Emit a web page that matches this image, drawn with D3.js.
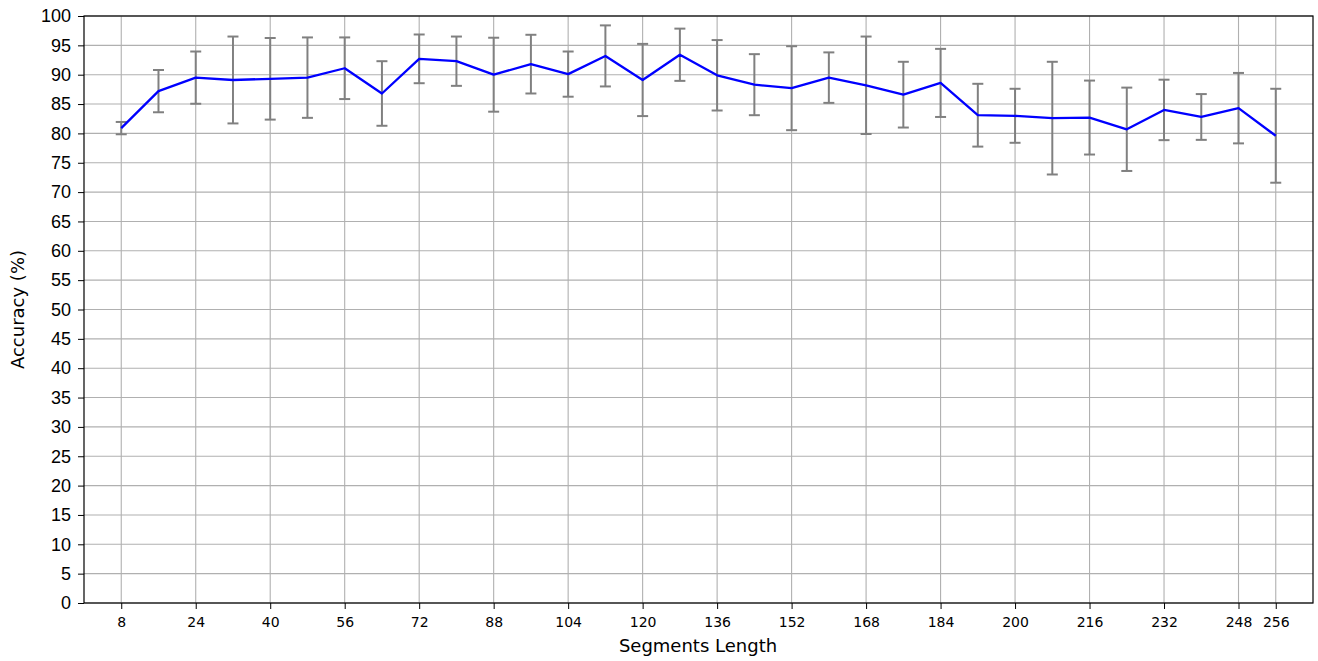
<!DOCTYPE html>
<html>
<head>
<meta charset="utf-8">
<script src="https://cdn.jsdelivr.net/npm/d3@7"></script>
<style>
  html, body { margin: 0; padding: 0; background: #fff; }
  svg { display: block; font-family: "DejaVu Sans", sans-serif; }
</style>
</head>
<body>
<svg id="chart" width="1318" height="661"></svg>
<script>
// Segment lengths evaluated
const segmentLengths = [8, 16, 24, 32, 40, 48, 56, 64, 72, 80, 88, 96, 104, 112, 120, 128,
  136, 144, 152, 160, 168, 176, 184, 192, 200, 208, 216, 224, 232, 240, 248, 256];
// Mean accuracy (%) per segment length
const meanAccuracy = [80.9, 87.2, 89.5, 89.1, 89.3, 89.5, 91.1, 86.8, 92.7, 92.3, 90.0, 91.8, 90.1, 93.2, 89.1, 93.4,
  89.9, 88.3, 87.7, 89.5, 88.2, 86.6, 88.6, 83.1, 83.0, 82.6, 82.7, 80.7, 84.0, 82.8, 84.3, 79.6];
// Standard deviation (%) per segment length
const stdAccuracy = [1.05, 3.6, 4.45, 7.4, 6.95, 6.85, 5.25, 5.5, 4.15, 4.2, 6.3, 5.0, 3.85, 5.2, 6.15, 4.45,
  6.0, 5.2, 7.15, 4.3, 8.3, 5.6, 5.8, 5.35, 4.6, 9.6, 6.3, 7.1, 5.15, 3.9, 6.0, 8.0];
// Axis ticks
const xTicks = [8, 24, 40, 56, 72, 88, 104, 120, 136, 152, 168, 184, 200, 216, 232, 248, 256];
const yTicks = d3.range(0, 101, 5);

const svg = d3.select("#chart");
const plotLeft = 84, plotRight = 1313, plotTop = 16, plotBottom = 603;

const x = d3.scaleLinear().domain([0, 264]).range([plotLeft, plotRight]);
const y = d3.scaleLinear().domain([0, 100]).range([plotBottom, plotTop]);

// grid
const grid = svg.append("g").attr("stroke", "#b0b0b0").attr("stroke-width", 1.1);
grid.selectAll("line.gy").data(yTicks).enter().append("line")
  .attr("x1", plotLeft).attr("x2", plotRight)
  .attr("y1", d => y(d)).attr("y2", d => y(d));
grid.selectAll("line.gx").data(xTicks).enter().append("line")
  .attr("x1", d => x(d)).attr("x2", d => x(d))
  .attr("y1", plotTop).attr("y2", plotBottom);

// error bars (mean ± std)
const eb = svg.append("g").attr("stroke", "#808080").attr("stroke-width", 2);
segmentLengths.forEach((s, i) => {
  const lo = meanAccuracy[i] - stdAccuracy[i], hi = meanAccuracy[i] + stdAccuracy[i];
  const cx = x(s);
  eb.append("line").attr("x1", cx).attr("x2", cx).attr("y1", y(lo)).attr("y2", y(hi));
  eb.append("line").attr("x1", cx - 5.5).attr("x2", cx + 5.5).attr("y1", y(lo)).attr("y2", y(lo));
  eb.append("line").attr("x1", cx - 5.5).attr("x2", cx + 5.5).attr("y1", y(hi)).attr("y2", y(hi));
});

// mean line
const line = d3.line().x((d, i) => x(segmentLengths[i])).y(d => y(d));
svg.append("path").datum(meanAccuracy)
  .attr("d", line)
  .attr("fill", "none")
  .attr("stroke", "#0000ff")
  .attr("stroke-width", 2.3)
  .attr("stroke-linejoin", "round");

// axes
const xAxis = d3.axisBottom(x).tickValues(xTicks).tickSize(6).tickPadding(8).tickFormat(d3.format("d"));
const yAxis = d3.axisLeft(y).tickValues(yTicks).tickSize(6).tickPadding(7).tickFormat(d3.format("d"));

const gx = svg.append("g").attr("transform", `translate(0,${plotBottom})`).call(xAxis);
gx.select(".domain").remove();
gx.selectAll("line").attr("stroke", "#000").attr("stroke-width", 1);
gx.selectAll("text").attr("fill", "#000")
  .style("font-family", "'DejaVu Sans', sans-serif")
  .style("font-size", "14px");

const gy = svg.append("g").attr("transform", `translate(${plotLeft},0)`).call(yAxis);
gy.select(".domain").remove();
gy.selectAll("line").attr("stroke", "#000").attr("stroke-width", 1);
gy.selectAll("text").attr("fill", "#000").style("font-size", "18px");

// frame
svg.append("rect").attr("x", plotLeft).attr("y", plotTop)
  .attr("width", plotRight - plotLeft).attr("height", plotBottom - plotTop)
  .attr("fill", "none").attr("stroke", "#000").attr("stroke-width", 1.2);

// axis titles
svg.append("text").attr("x", (plotLeft + plotRight) / 2 - 0.5).attr("y", 652)
  .attr("text-anchor", "middle").style("font-size", "18px").text("Segments Length");
svg.append("text").attr("transform", `translate(24,${(plotTop + plotBottom) / 2}) rotate(-90)`)
  .attr("text-anchor", "middle").style("font-size", "18px").text("Accuracy (%)");
</script>
</body>
</html>
